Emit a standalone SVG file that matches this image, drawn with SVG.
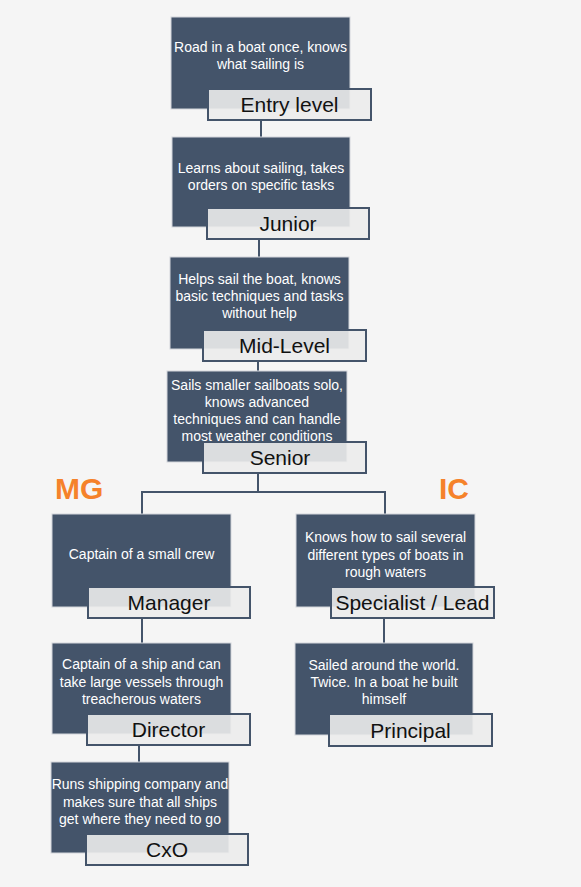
<svg xmlns="http://www.w3.org/2000/svg" width="581" height="887" viewBox="0 0 581 887">
<style>
.bg{fill:#f5f5f5}
.box{fill:#44546a;stroke:#d3d6db;stroke-width:1}
.lab{fill:#ececec;fill-opacity:0.9;stroke:#44546a;stroke-width:2}
.body{font-family:"Liberation Sans",Arial,sans-serif;font-size:14px;fill:#ffffff;text-anchor:middle}
.title{font-family:"Liberation Sans",Arial,sans-serif;font-size:21px;fill:#111111;text-anchor:middle}
.cat{font-family:"Liberation Sans",Arial,sans-serif;font-size:30px;font-weight:bold;fill:#f5822a}
.con{fill:none;stroke:#44546a;stroke-width:2}
</style>
<rect class="bg" x="0" y="0" width="581" height="887"/>
<g id="connectors">
<line class="con" x1="261" y1="119" x2="261" y2="137"/>
<line class="con" x1="259" y1="239" x2="259" y2="257"/>
<line class="con" x1="258" y1="361" x2="258" y2="371"/>
<polyline class="con" points="258,473 258,492 142,492 142,514"/>
<polyline class="con" points="258,492 385,492 385,514"/>
<line class="con" x1="142" y1="618" x2="142" y2="643"/>
<line class="con" x1="139" y1="745" x2="139" y2="762"/>
<line class="con" x1="384" y1="618" x2="384" y2="643"/>
</g>
<g id="entry">
<rect class="box" x="171" y="17" width="179" height="92"/>
<text class="body" x="260.5" y="52">Road in a boat once, knows</text>
<text class="body" x="260.5" y="69">what sailing is</text>
<rect class="lab" x="208" y="89" width="163" height="31"/>
<text class="title" x="289.5" y="112">Entry level</text>
</g>
<g id="junior">
<rect class="box" x="172" y="137" width="178" height="90"/>
<text class="body" x="261" y="173">Learns about sailing, takes</text>
<text class="body" x="261" y="190">orders on specific tasks</text>
<rect class="lab" x="207" y="208" width="162" height="31"/>
<text class="title" x="288" y="231">Junior</text>
</g>
<g id="midlevel">
<rect class="box" x="170" y="257" width="179" height="92"/>
<text class="body" x="259.5" y="284">Helps sail the boat, knows</text>
<text class="body" x="259.5" y="301">basic techniques and tasks</text>
<text class="body" x="259.5" y="318">without help</text>
<rect class="lab" x="203" y="330" width="163" height="31"/>
<text class="title" x="284.5" y="353">Mid-Level</text>
</g>
<g id="senior">
<rect class="box" x="167" y="371" width="180" height="91"/>
<text class="body" x="257" y="390">Sails smaller sailboats solo,</text>
<text class="body" x="257" y="407">knows advanced</text>
<text class="body" x="257" y="424">techniques and can handle</text>
<text class="body" x="257" y="441">most weather conditions</text>
<rect class="lab" x="203" y="442" width="163" height="31"/>
<text class="title" x="280" y="465">Senior</text>
</g>
<g id="mg">
<text class="cat" x="55" y="499">MG</text>
</g>
<g id="ic">
<text class="cat" x="439" y="499">IC</text>
</g>
<g id="manager">
<rect class="box" x="52" y="514" width="179" height="93"/>
<text class="body" x="141.5" y="559">Captain of a small crew</text>
<rect class="lab" x="88" y="587" width="162" height="31"/>
<text class="title" x="169" y="610">Manager</text>
</g>
<g id="specialist">
<rect class="box" x="296" y="514" width="179" height="93"/>
<text class="body" x="385.5" y="542">Knows how to sail several</text>
<text class="body" x="385.5" y="560">different types of boats in</text>
<text class="body" x="385.5" y="577">rough waters</text>
<rect class="lab" x="331" y="587" width="163" height="31"/>
<text class="title" x="412.5" y="610">Specialist / Lead</text>
</g>
<g id="director">
<rect class="box" x="52" y="643" width="179" height="91"/>
<text class="body" x="141.5" y="669">Captain of a ship and can</text>
<text class="body" x="141.5" y="687">take large vessels through</text>
<text class="body" x="141.5" y="704">treacherous waters</text>
<rect class="lab" x="87" y="714" width="163" height="31"/>
<text class="title" x="168.5" y="737">Director</text>
</g>
<g id="principal">
<rect class="box" x="295" y="643" width="178" height="92"/>
<text class="body" x="384" y="670">Sailed around the world.</text>
<text class="body" x="384" y="687">Twice. In a boat he built</text>
<text class="body" x="384" y="704">himself</text>
<rect class="lab" x="329" y="714" width="163" height="32"/>
<text class="title" x="410.5" y="738">Principal</text>
</g>
<g id="cxo">
<rect class="box" x="51" y="762" width="178" height="91"/>
<text class="body" x="140" y="789">Runs shipping company and</text>
<text class="body" x="140" y="807">makes sure that all ships</text>
<text class="body" x="140" y="824">get where they need to go</text>
<rect class="lab" x="86" y="834" width="162" height="31"/>
<text class="title" x="167" y="857">CxO</text>
</g>
</svg>
